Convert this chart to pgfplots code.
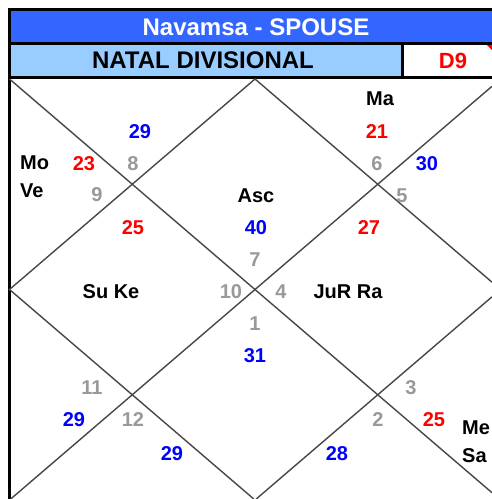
\documentclass[border=0pt]{standalone}
\usepackage{fontspec}
\setmainfont{Liberation Sans}
\usepackage{pgfplots}
\pgfplotsset{compat=1.18}
\definecolor{hdrblue}{RGB}{51,102,255}
\definecolor{hdrlight}{RGB}{153,204,255}
\definecolor{nblue}{RGB}{0,0,255}
\definecolor{nred}{RGB}{255,0,0}
\definecolor{ngray}{RGB}{153,153,153}
\newcommand{\lbl}[5][base]{\node[anchor=#1, text=#4, font=\fontsize{20}{20}\selectfont\bfseries, inner sep=0pt] at (axis cs:#2,#3) {#5};}
\begin{document}
\begin{tikzpicture}
\begin{axis}[scale only axis, width=492pt, height=499pt,
  xmin=0, xmax=492, ymin=0, ymax=499, y dir=reverse, hide axis, clip=true]
% full-area frame (invisible) so that the picture keeps the whole axis box
\addplot[draw=none, fill=white] coordinates {(0,0) (492,0) (492,499) (0,499)} --cycle;
% header fills
\addplot[fill=hdrblue, draw=none] coordinates {(9,9) (492,9) (492,43.5) (9,43.5)} --cycle;
\addplot[fill=hdrlight, draw=none] coordinates {(9,43.5) (402,43.5) (402,77.5) (9,77.5)} --cycle;
\addplot[fill=nred, draw=none] coordinates {(487,45) (492,45) (492,50)} --cycle;
% borders
\addplot[black, line width=3pt] coordinates {(492,9) (9.5,9) (9.5,499)};
\addplot[black, line width=3pt] coordinates {(9.5,43.5) (492,43.5)};
\addplot[black, line width=3pt] coordinates {(9.5,77.5) (492,77.5)};
\addplot[black, line width=3pt] coordinates {(402,43.5) (402,77.5)};
% chart lines
\addplot[black!72, line width=1.4pt] coordinates {(9.5,79) (492,492.7)};
\addplot[black!72, line width=1.4pt] coordinates {(492,86.3) (10.7,499)};
\addplot[black!72, line width=1.4pt] coordinates {(253.8,499) (9.5,289.5) (255,79) (492,282.2)};
\addplot[black!72, line width=1.4pt] coordinates {(492,296.8) (256.2,499)};
% header text
\node[anchor=base, text=white, font=\fontsize{24}{24}\selectfont\bfseries, inner sep=0pt] at (axis cs:256,35.5) {Navamsa - SPOUSE};
\node[anchor=base, text=black, font=\fontsize{24}{24}\selectfont\bfseries, inner sep=0pt] at (axis cs:203,68.5) {NATAL DIVISIONAL};
\node[anchor=base, text=nred, font=\fontsize{22}{22}\selectfont\bfseries, inner sep=0pt] at (axis cs:453,68) {D9};
% chart labels
\lbl{140}{138}{nblue}{29}
\lbl[base west]{20}{169}{black}{Mo}
\lbl[base west]{20}{197}{black}{Ve}
\lbl{84}{170}{nred}{23}
\lbl{133}{170}{ngray}{8}
\lbl{97}{201}{ngray}{9}
\lbl{133}{234}{nred}{25}
\lbl{111}{298}{black}{Su Ke}
\lbl{231}{298}{ngray}{10}
\lbl{380}{105}{black}{Ma}
\lbl{377}{138}{nred}{21}
\lbl{377}{170}{ngray}{6}
\lbl{427}{170}{nblue}{30}
\lbl{402}{202}{ngray}{5}
\lbl{256}{202}{black}{Asc}
\lbl{256}{234}{nblue}{40}
\lbl{369}{234}{nred}{27}
\lbl{255}{266}{ngray}{7}
\lbl{281}{298}{ngray}{4}
\lbl{348}{298}{black}{JuR Ra}
\lbl{255}{330}{ngray}{1}
\lbl{255}{362}{nblue}{31}
\lbl{92}{394}{ngray}{11}
\lbl{74}{426}{nblue}{29}
\lbl{133}{426}{ngray}{12}
\lbl{172}{460}{nblue}{29}
\lbl{411}{394}{ngray}{3}
\lbl{378}{426}{ngray}{2}
\lbl{434}{426}{nred}{25}
\lbl{337}{460}{nblue}{28}
\lbl[base west]{462}{434}{black}{Me}
\lbl[base west]{462}{462}{black}{Sa}
\end{axis}
\end{tikzpicture}
\end{document}
